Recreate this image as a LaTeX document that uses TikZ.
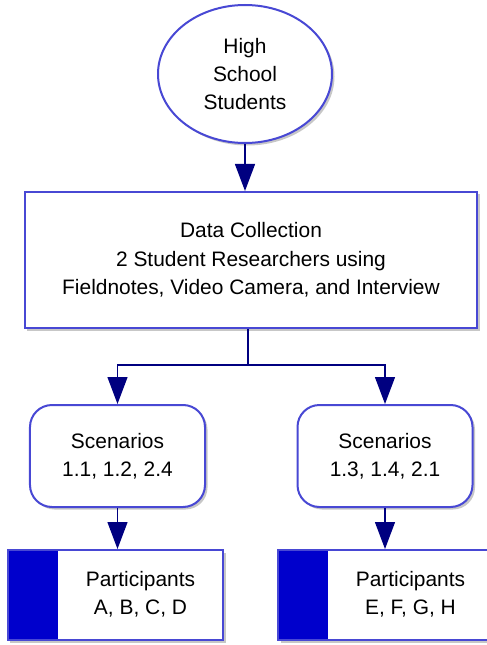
\documentclass[tikz,border=0pt]{standalone}
\usepackage{fontspec}
\setmainfont{Liberation Sans}
\usetikzlibrary{shapes.geometric,arrows.meta,shadows}
\definecolor{edgeblue}{RGB}{72,72,212}
\definecolor{arrownavy}{RGB}{0,0,128}
\definecolor{stripblue}{RGB}{0,0,204}
\tikzset{
  boxshadow/.style={drop shadow={shadow xshift=2.5bp,shadow yshift=-2.5bp,opacity=0.22,fill=black}},
  shapebase/.style={draw=edgeblue,line width=2bp,fill=white,boxshadow,inner sep=0pt,
    font=\fontsize{21}{28.5}\selectfont,align=center},
  ellbox/.style={shapebase,ellipse,minimum width=174bp,minimum height=138bp},
  databox/.style={shapebase,rectangle,minimum width=452bp,minimum height=136bp},
  scenbox/.style={shapebase,rectangle,rounded corners=22bp,minimum width=175bp,minimum height=102bp},
  partbox/.style={shapebase,rectangle,minimum width=215bp,minimum height=90bp,
    path picture={\fill[stripblue] (path picture bounding box.south west) rectangle ([xshift=50bp]path picture bounding box.north west);}},
  labeltext/.style={inner sep=0pt,font=\fontsize{21}{28.5}\selectfont,align=center},
  flow/.style={draw=arrownavy,line width=1.3bp,-{Triangle[width=20bp,length=27bp]},arrownavy},
  flowline/.style={draw=arrownavy,line width=1.3bp},
}
\begin{document}
\begin{tikzpicture}[x=1bp,y=-1bp]
\useasboundingbox (0,0) rectangle (487,645);
\node[ellbox] (hs) at (245,74) {High\\School\\Students};
\node[databox] (dc) at (251,260) {Data Collection\\2 Student Researchers using\\Fieldnotes, Video Camera, and Interview};
\node[scenbox] (s1) at (117.5,456) {Scenarios\\1.1, 1.2, 2.4};
\node[scenbox] (s2) at (385,456) {Scenarios\\1.3, 1.4, 2.1};
\node[partbox] (p1) at (115.5,595) {};
\node[partbox] (p2) at (385.5,595) {};
\node[labeltext] (p1t) at (140.5,594) {Participants\\A, B, C, D};
\node[labeltext] (p2t) at (410.5,594) {Participants\\E, F, G, H};
\coordinate (br) at (248,365);
\draw[flow] (hs.south) -- (hs.south |- dc.north);
\draw[flowline] (br |- dc.south) -- (br);
\draw[flow] (br) -| (s1.north);
\draw[flow] (br) -| (s2.north);
\draw[flow] (s1.south) -- (s1.south |- p1.north);
\draw[flow] (s2.south) -- (s2.south |- p2.north);
\end{tikzpicture}
\end{document}
